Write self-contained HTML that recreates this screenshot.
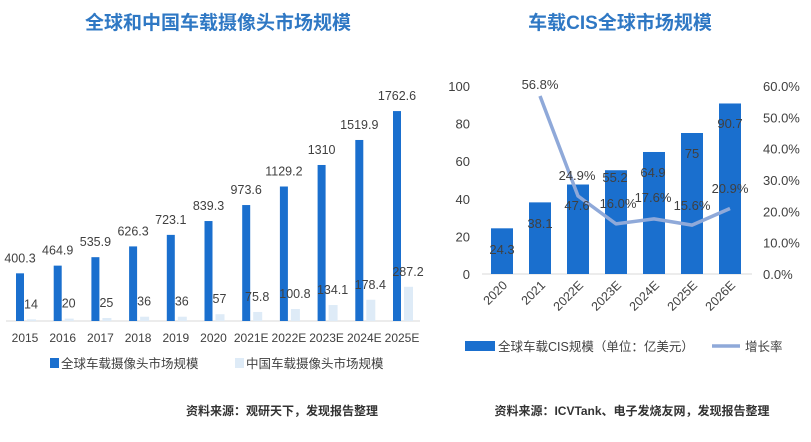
<!DOCTYPE html>
<html><head><meta charset="utf-8"><style>
body{margin:0;background:#fff;}
svg text{font-family:"Liberation Sans","Noto Sans CJK SC",sans-serif;}
</style></head><body>
<svg width="811" height="437" xmlns="http://www.w3.org/2000/svg">
<rect width="811" height="437" fill="#fff"/>
<text x="218" y="29" text-anchor="middle" font-size="19" font-weight="bold" fill="#2f78c4">全球和中国车载摄像头市场规模</text>
<text x="620" y="29" text-anchor="middle" font-size="19" font-weight="bold" fill="#2f78c4">车载CIS全球市场规模</text>
<line x1="6" y1="321" x2="420" y2="321" stroke="#d9d9d9"/>
<g id="left"></g>
<g font-size="12.5" fill="#404040">
<rect x="50" y="358" width="9" height="10" fill="#1a6fce"/>
<text x="61" y="368">全球车载摄像头市场规模</text>
<rect x="235" y="358" width="9" height="10" fill="#deebf7"/>
<text x="246" y="368">中国车载摄像头市场规模</text>
</g>
<text x="282" y="415" text-anchor="middle" font-size="12" font-weight="bold" fill="#333">资料来源：观研天下，发现报告整理</text>
<text x="632" y="415" text-anchor="middle" font-size="12" font-weight="bold" fill="#333">资料来源：ICVTank、电子发烧友网，发现报告整理</text>
<g id="right"></g>
<rect x="465" y="341" width="30" height="10" fill="#1a6fce"/>
<text x="498" y="351" font-size="12.5" fill="#404040">全球车载CIS规模（单位：亿美元）</text>
<line x1="712" y1="346" x2="740" y2="346" stroke="#8fa9d9" stroke-width="3.5"/>
<text x="745" y="351" font-size="12.5" fill="#404040">增长率</text>
</svg>
<script>
const ns="http://www.w3.org/2000/svg";
function el(p,t,a,txt){const e=document.createElementNS(ns,t);for(const k in a)e.setAttribute(k,a[k]);if(txt!==undefined)e.textContent=txt;p.appendChild(e);return e;}
const L=document.getElementById("left");
const yrs=["2015","2016","2017","2018","2019","2020","2021E","2022E","2023E","2024E","2025E"];
const g=[400.3,464.9,535.9,626.3,723.1,839.3,973.6,1129.2,1310,1519.9,1762.6];
const c=[14,20,25,36,36,57,75.8,100.8,134.1,178.4,287.2];
const s=0.1191,b=321;
yrs.forEach((y,i)=>{const cx=25+37.7*i;
 const h=g[i]*s, h2=c[i]*s;
 el(L,"rect",{x:cx-9,y:b-h,width:8,height:h,fill:"#1a6fce"});
 el(L,"rect",{x:cx+2,y:b-h2,width:9,height:h2,fill:"#deebf7"});
 el(L,"text",{x:cx-5,y:b-h-11,"text-anchor":"middle","font-size":"12.5",fill:"#404040"},String(g[i]));
 el(L,"text",{x:cx+6,y:b-h2-11,"text-anchor":"middle","font-size":"12.5",fill:"#404040"},String(c[i]));
 el(L,"text",{x:cx,y:342,"text-anchor":"middle","font-size":"12",fill:"#404040"},y);
});
const R=document.getElementById("right");
const rb=274,rs=1.88;
el(R,"line",{x1:482,y1:rb,x2:752,y2:rb,stroke:"#d9d9d9"});
[0,20,40,60,80,100].forEach(v=>el(R,"text",{x:470,y:rb-v*rs+5,"text-anchor":"end","font-size":"13",fill:"#404040"},String(v)));
[0,10,20,30,40,50,60].forEach(v=>el(R,"text",{x:763,y:rb-v/60*188+5,"font-size":"13",fill:"#404040"},v.toFixed(1)+"%"));
const ry=["2020","2021","2022E","2023E","2024E","2025E","2026E"];
const rv=[24.3,38.1,47.6,55.2,64.9,75,90.7];
const gr=[null,56.8,24.9,16.0,17.6,15.6,20.9];
const pts=[];
ry.forEach((y,i)=>{const cx=502+38*i,h=rv[i]*rs;
 el(R,"rect",{x:cx-11,y:rb-h,width:22,height:h,fill:"#1a6fce"});
 el(R,"text",{x:cx+6,y:rb+12,"text-anchor":"end","font-size":"12.5",fill:"#404040",transform:`rotate(-45 ${cx+6} ${rb+12})`},y);
 if(gr[i]!==null)pts.push([cx,rb-gr[i]/60*188]);
});
el(R,"polyline",{points:pts.map(p=>p.join(",")).join(" "),fill:"none",stroke:"#8fa9d9","stroke-width":"3.5","stroke-linejoin":"round"});
const vp=[[502,249],[540,223],[577,205],[615,177],[653,172],[692,153],[730,123]];
rv.forEach((v,i)=>el(R,"text",{x:vp[i][0],y:vp[i][1]+5,"text-anchor":"middle","font-size":"13",fill:"#404040"},String(v)));
const pl=[[540,84],[577,175],[618,203],[653,197],[692,205],[730,188]];
gr.slice(1).forEach((v,k)=>el(R,"text",{x:pl[k][0],y:pl[k][1]+5,"text-anchor":"middle","font-size":"13",fill:"#404040"},v.toFixed(1)+"%"));
</script>
</body></html>
